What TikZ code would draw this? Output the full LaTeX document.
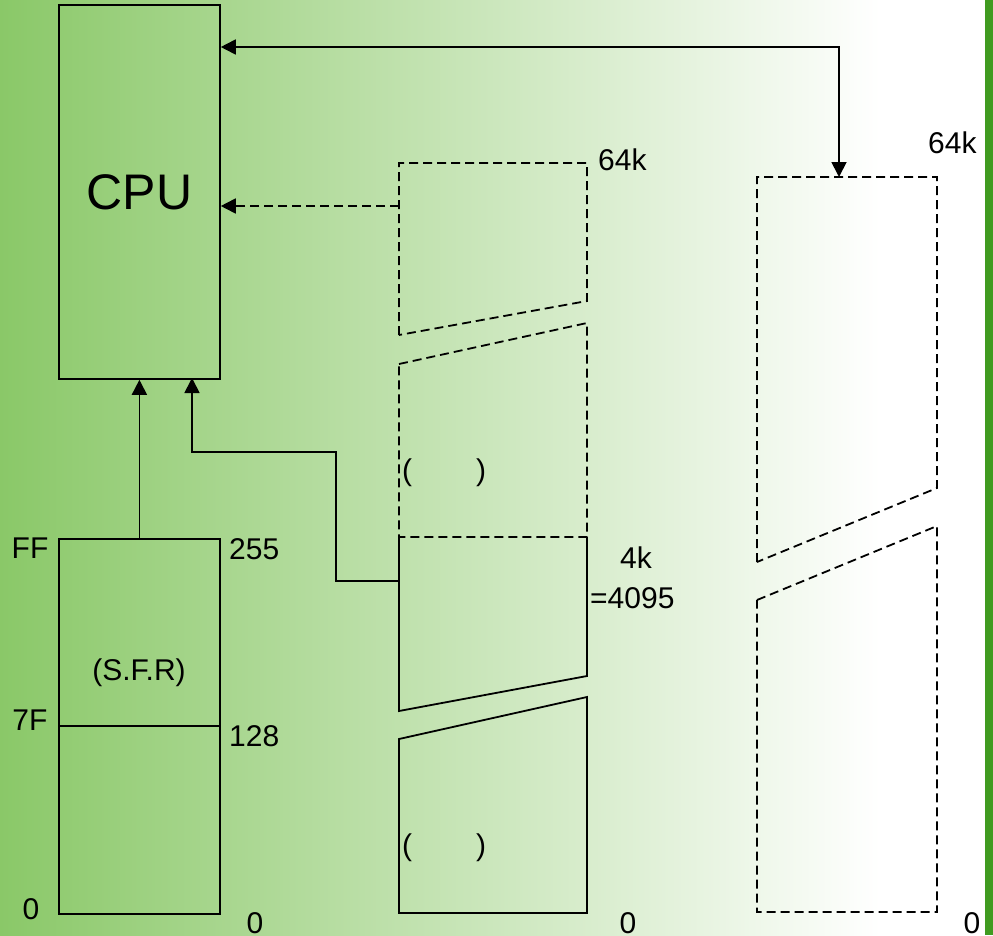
\documentclass[tikz,border=0pt]{standalone}
\usepackage{fontspec}
\setmainfont{Liberation Sans}
\usetikzlibrary{arrows.meta,positioning}
\definecolor{bggreen}{RGB}{138,200,104}
\definecolor{bargreen}{RGB}{64,155,32}

\begin{document}
\begin{tikzpicture}[x=1pt,y=-1pt]
			\tikzstyle{every node}=[font=\fontsize{30}{33}\selectfont, inner sep=0pt]
			\tikzstyle{box}=[draw, line width=1.8pt]
			\tikzstyle{dsh}=[line width=1.8pt, dash pattern=on 9pt off 5pt]
			\tikzstyle{pfeil}=[line width=1.8pt, -{Triangle[length=15pt,width=15pt]}]
			\tikzstyle{dpfeil}=[line width=1.8pt, {Triangle[length=15pt,width=15pt]}-{Triangle[length=15pt,width=15pt]}]
			
			%Hintergrund
			\useasboundingbox (0,0) rectangle (993,935);
			\shade[left color=bggreen, right color=white] (0,0) rectangle (880,935);
			\fill[white] (880,0) rectangle (985,935);
			\fill[bargreen] (985,0) rectangle (993,935);
			
			%CPU und interner RAM
			\node[box, minimum width=161pt, minimum height=374pt, anchor=north west, font=\fontsize{50}{54}\selectfont] (cpu) at (58,4) {CPU};
			\node[box, minimum width=161pt, minimum height=375pt, anchor=north west] (sfr) at (58,538) {};
			\draw[line width=2.4pt] (58,726) -- (219,726);
			\node (sfrtxt) at (139,673) {(S.F.R)};
			\node (ff) at (30,548) {FF};
			\node (sf) at (30,720) {7F};
			\node (nulla) at (31,909) {0};
			\node[anchor=west] (zff) at (229,549) {255};
			\node[anchor=west] (zef) at (229,736) {128};
			\node (nullb) at (255,923) {0};
			
			%Programmspeicher
			\draw[dsh] (399,335) -- (399,163) -- (587,163) -- (587,301) -- cycle;
			\draw[dsh] (399,364) -- (587,323) -- (587,537) -- (399,537) -- cycle;
			\draw[box] (399,537) -- (399,711) -- (587,676) -- (587,537);
			\draw[box] (399,739) -- (587,697) -- (587,913) -- (399,913) -- cycle;
			\node[anchor=west] (exrom) at (402,473) {(\hspace{64pt})};
			\node[anchor=west] (inrom) at (402,848) {(\hspace{64pt})};
			\node[anchor=west] (romtop) at (598,160) {64k};
			\node[anchor=west] (romvier) at (620,558) {4k};
			\node[anchor=west] (romend) at (590,598) {=4095};
			\node (nullc) at (628,923) {0};
			
			%externer RAM
			\draw[dsh] (757,562) -- (757,177) -- (937,177) -- (937,488) -- cycle;
			\draw[dsh] (757,600) -- (937,526) -- (937,912) -- (757,912) -- cycle;
			\node[anchor=west] (ramtop) at (928,143) {64k};
			\node (nulld) at (972,923) {0};
			
			%Verbindungen
			\coordinate (ramin) at (839,177);
			\coordinate (cpuin) at ([yshift=-43pt]cpu.north east);
			\coordinate (romout) at (399,206);
			\coordinate (romin) at (399,581);
			\coordinate (cpub) at (192,378);
			\draw[dpfeil] (cpuin) -| (ramin);
			\draw[pfeil, dash pattern=on 9pt off 5pt] (romout) -- (cpu.east |- romout);
			\draw[pfeil] (sfr.north) -- (cpu.south);
			\draw[pfeil] (romin) -| (336,452) -| (cpub);
\end{tikzpicture}
\end{document}
